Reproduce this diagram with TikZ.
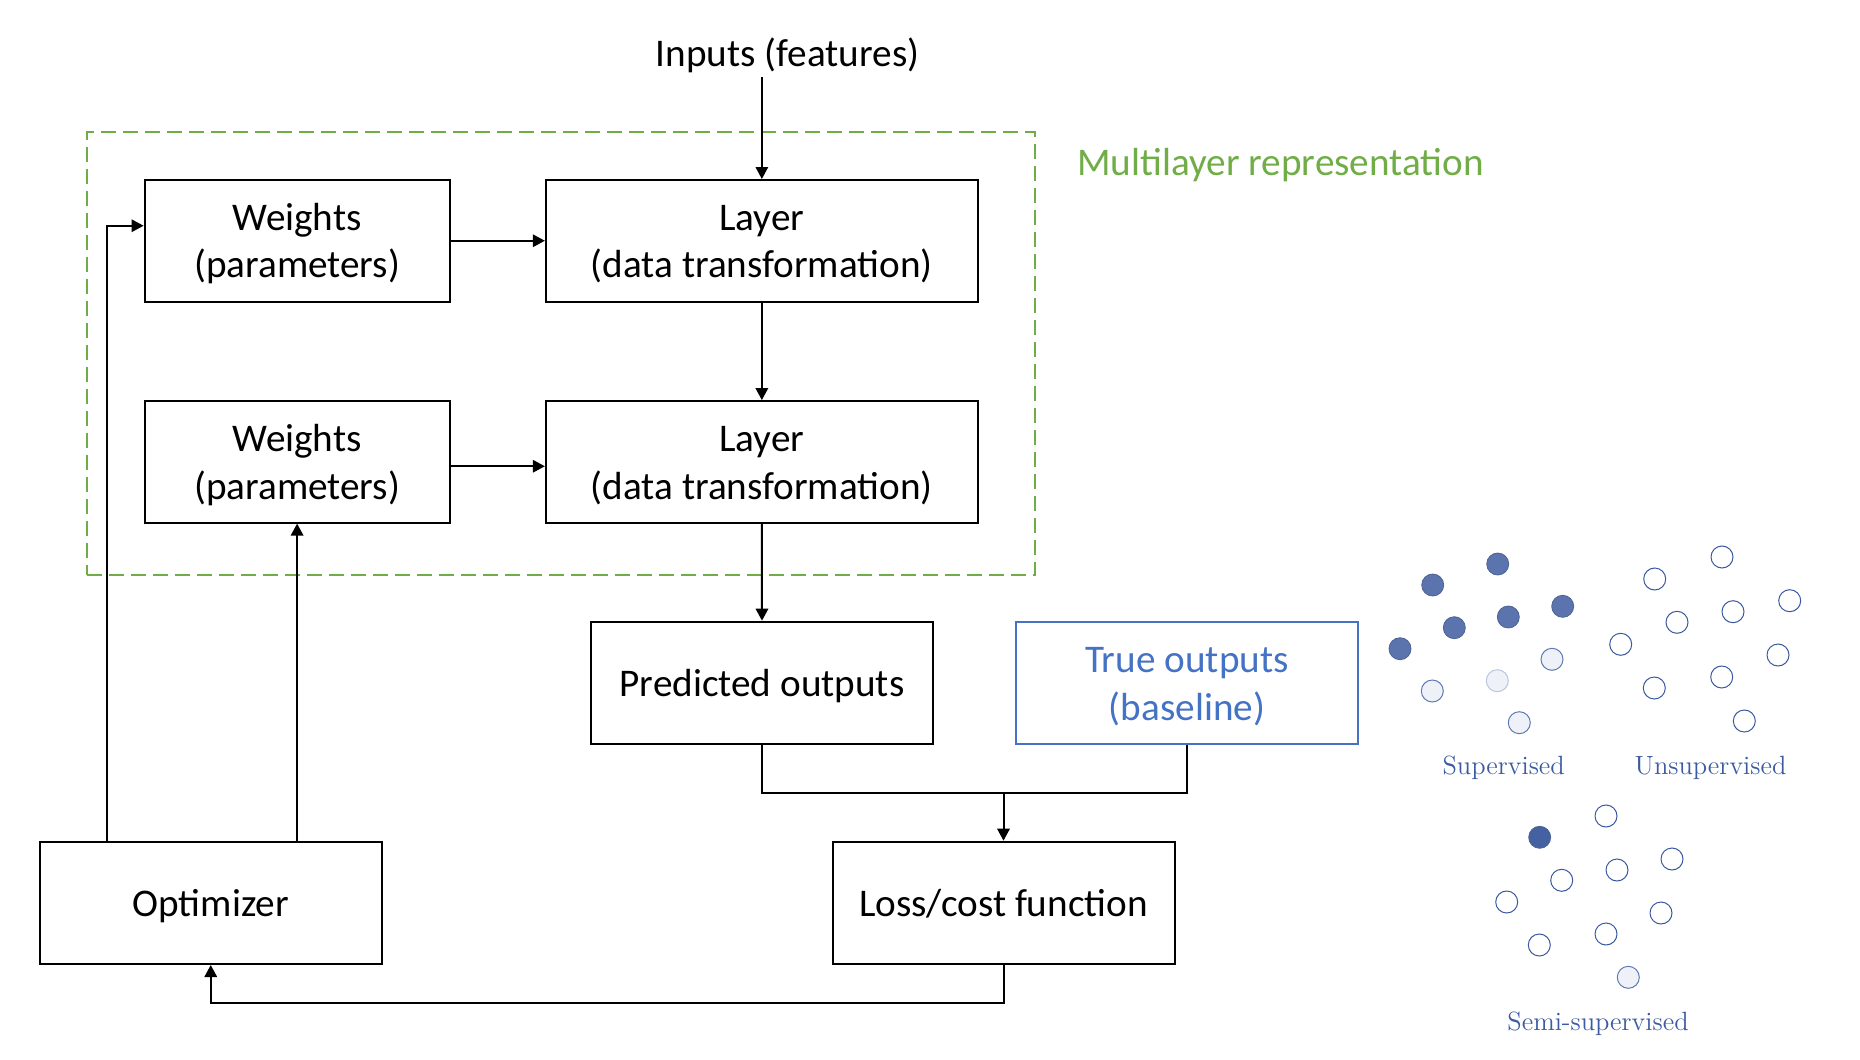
\documentclass[tikz,border=0pt]{standalone}
\usepackage{fontspec}
\newfontfamily\calfont{Carlito}
\usetikzlibrary{arrows.meta,calc}
\definecolor{mlgreen}{HTML}{70AD47}
\definecolor{trueblue}{HTML}{4472C4}
\definecolor{dotdark}{HTML}{5B74AD}
\definecolor{dotdarker}{HTML}{4462A2}
\definecolor{dotline}{HTML}{3A58A0}
\definecolor{dotlight}{HTML}{EEF1F8}
\definecolor{dottext}{HTML}{3C5AA0}
\newcommand{\bt}[1]{\raisebox{-2pt}[\height][\depth]{\begin{tabular}{@{}c@{}}#1\end{tabular}}}
\tikzset{
  box/.style={draw, line width=1pt, inner sep=0pt, align=center,
    font=\calfont\fontsize{19.6}{23.7}\selectfont},
  smallbox/.style={box, minimum width=152.5pt, minimum height=60.75pt},
  layerbox/.style={box, minimum width=216pt, minimum height=60.75pt},
  bigbox/.style={box, minimum width=171pt, minimum height=61.15pt},
  conn/.style={line width=1pt},
  arr/.style={conn, -{Triangle[length=6pt,width=6.2pt]}},
  filleddot/.style={fill=dotdark, draw=dotdark!85!black, line width=0.4pt},
  lightdot/.style={fill=dotlight, draw=dotline!80, line width=0.5pt},
  emptydot/.style={draw=dotline, line width=0.5pt},
  dotlabel/.style={text=dottext, font=\fontsize{13.2}{15}\selectfont},
}
\begin{document}
\begin{tikzpicture}[x=0.5pt, y=-0.5pt]
\useasboundingbox (0,0) rectangle (1860,1060);

% title
\node[font=\calfont\fontsize{19.6}{23.7}\selectfont, inner sep=2pt] (inp) at (787.6,55.6) {Inputs (features)};

% dashed multilayer box
\node[draw=mlgreen, line width=1.1pt, dash pattern=on 7.5pt off 3.5pt, inner sep=0pt,
      minimum width=474pt, minimum height=221.5pt] (ml) at (561.1,353.1) {};
\node[anchor=west, text=mlgreen, font=\calfont\fontsize{19.6}{23.7}\selectfont, inner sep=0pt] (mltext) at (1077,165) {Multilayer representation};

% boxes
\node[smallbox] (W1) at (297.1,240.75) {\bt{Weights\\(parameters)}};
\node[layerbox] (L1) at (761.85,240.75) {\bt{Layer\\(data transformation)}};
\node[smallbox] (W2) at (297.1,461.85) {\bt{Weights\\(parameters)}};
\node[layerbox] (L2) at (761.85,461.85) {\bt{Layer\\(data transformation)}};
\node[bigbox] (P) at (762,682.85) {\bt{Predicted outputs}};
\node[bigbox, draw=trueblue, text=trueblue] (T) at (1187,682.85) {\bt{True outputs\\(baseline)}};
\node[bigbox] (O) at (210.75,902.85) {\bt{Optimizer}};
\node[bigbox] (LF) at (1003.5,902.85) {\bt{Loss/cost function}};

% connectors
\draw[arr] (L1.north |- inp.south) -- (L1.north);
\draw[arr] (W1.east) -- (L1.west);
\draw[arr] ([yshift=-2.2pt]W2.east) -- ([yshift=-2.2pt]L2.west);
\draw[arr] (L1.south) -- (L2.north);
\draw[arr] (L2.south) -- (P.north);
\coordinate (jn) at (1003.5,793.3);
\draw[conn] (P.south) |- (jn) -| (T.south);
\draw[arr] (LF.north |- jn) -- (LF.north);
\coordinate (bl) at (1003.5,1002.7);
\draw[arr] (LF.south) |- (bl) -| (O.south);
\coordinate (c1) at (107,0);
\draw[arr] (O.north -| c1) |- ([yshift=7.5pt]W1.west);
\draw[arr] (O.north -| W2.south) -- (W2.south);

% scatter: supervised
\foreach \x/\y in {1432.7/585, 1497.7/564, 1454.3/627.7, 1508.3/617, 1562.7/606.3, 1400/648.7}
  \filldraw[filleddot] (\x,\y) circle[radius=5.5pt];
\foreach \x/\y in {1432.3/691, 1552/659.3, 1519.3/722.7}
  \filldraw[lightdot] (\x,\y) circle[radius=5.5pt];
\filldraw[lightdot, draw=dotline!35] (1497.3,680.7) circle[radius=5.5pt];
\node[dotlabel] (sup) at (1503.7,767.7) {Supervised};

% unsupervised
\foreach \x/\y in {1722/557, 1654.7/579, 1789.7/600.7, 1733/611.7, 1677/622.3, 1620.7/644.3, 1778/655, 1721.7/677, 1654.3/688, 1744.3/721}
  \draw[emptydot] (\x,\y) circle[radius=5.5pt];
\node[dotlabel] (unsup) at (1710.5,767.7) {Unsupervised};

% semi-supervised
\filldraw[filleddot, fill=dotdarker] (1539.7,837.3) circle[radius=5.5pt];
\foreach \x/\y in {1606/816, 1672/859, 1617/870, 1561.7/880.3, 1506.7/902, 1661/913, 1606/934, 1539.3/945}
  \draw[emptydot] (\x,\y) circle[radius=5.5pt];
\filldraw[lightdot] (1628.3,977.3) circle[radius=5.5pt];
\node[dotlabel] (semi) at (1598,1023.3) {Semi-supervised};
\end{tikzpicture}
\end{document}
